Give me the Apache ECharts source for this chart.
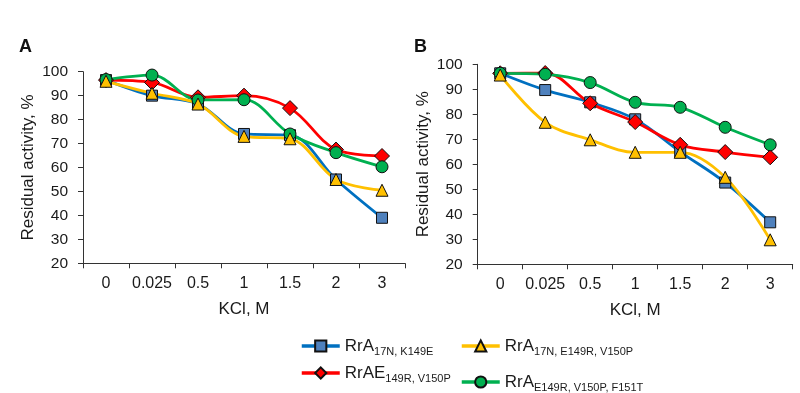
<!DOCTYPE html>
<html><head><meta charset="utf-8">
<script src="https://cdn.jsdelivr.net/npm/echarts@6/dist/echarts.min.js"></script>
<style>html,body{margin:0;padding:0;background:#fff}#c{width:800px;height:393px}</style>
</head><body><div id="c"></div>
<script>
const categories = ['0', '0.025', '0.5', '1', '1.5', '2', '3'];
const yTicks = [20, 30, 40, 50, 60, 70, 80, 90, 100];

// Panel A
const A_blue   = [96.5, 90, 86.5, 74, 73.5, 55, 39];
const A_yellow = [96, 91, 86.5, 73, 72, 55, 50.5];
const A_red    = [96.5, 95.5, 89.3, 90, 84.8, 67.5, 64.8];
const A_green  = [96.7, 98.6, 88.2, 88.3, 74, 66.2, 60.3];
// Panel B
const B_blue   = [96.4, 89.7, 84.8, 78, 65, 52.7, 36.8];
const B_yellow = [95.7, 76.8, 69.8, 64.8, 64.8, 54.8, 29.8];
const B_red    = [96.4, 96.5, 84.4, 76.9, 67.8, 64.9, 62.8];
const B_green  = [96.4, 96, 92.7, 84.8, 82.8, 74.8, 67.8];

const names = {
  blue: 'RrA17N, K149E',
  yellow: 'RrA17N, E149R, V150P',
  red: 'RrAE149R, V150P',
  green: 'RrAE149R, V150P, F151T'
};
const legendRich = {
  blue: '{m|RrA}{s|17N, K149E}',
  yellow: '{m|RrA}{s|17N, E149R, V150P}',
  red: '{m|RrAE}{s|149R, V150P}',
  green: '{m|RrA}{s|E149R, V150P, F151T}'
};

const FONT = 'Liberation Sans, Arial, sans-serif';
const styles = {
  blue:   {line: '#0070C0', fill: '#4F81BD', symbol: 'rect', size: 11},
  yellow: {line: '#FFC000', fill: '#FFC000', symbol: 'triangle', size: 12},
  red:    {line: '#FF0000', fill: '#FF0000', symbol: 'diamond', size: 15},
  green:  {line: '#00B050', fill: '#00B050', symbol: 'circle', size: 12}
};

function mkSeries(key, data, idx) {
  const s = styles[key];
  return {
    name: names[key], type: 'line', data: data,
    xAxisIndex: idx, yAxisIndex: idx,
    smooth: 0.35,
    symbol: s.symbol, symbolSize: s.size,
    lineStyle: {color: s.line, width: 2.8},
    itemStyle: {color: s.fill, borderColor: '#111', borderWidth: 1},
    color: s.line,
    z: 2
  };
}

function xAxis(idx) {
  return {
    type: 'category', gridIndex: idx, data: categories, boundaryGap: true,
    axisLine: {lineStyle: {color: '#333', width: 1}},
    axisTick: {show: true, inside: false, length: 5, lineStyle: {color: '#333'}},
    axisLabel: {color: '#1a1a1a', fontSize: 16, fontFamily: FONT, margin: 12, interval: 0},
    name: 'KCl, M', nameLocation: 'middle', nameGap: 38,
    nameTextStyle: {color: '#1a1a1a', fontSize: 17, fontFamily: FONT}
  };
}
function yAxis(idx) {
  return {
    type: 'value', gridIndex: idx, min: 20, max: 100, interval: 10,
    axisLine: {show: true, lineStyle: {color: '#333', width: 1}},
    axisTick: {show: true, inside: false, length: 5, lineStyle: {color: '#333'}},
    splitLine: {show: false},
    axisLabel: {color: '#1a1a1a', fontSize: 15.5, fontFamily: FONT, margin: 15},
    name: 'Residual activity, %', nameLocation: 'middle', nameGap: 46,
    nameTextStyle: {color: '#1a1a1a', fontSize: 17, fontFamily: FONT}
  };
}

function legendFor(key, left, top) {
  return {
    data: [names[key]], left: left, top: top, orient: 'horizontal',
    padding: 0,
    itemWidth: 38, itemHeight: 14, itemGap: 5,
    lineStyle: {width: 3.5},
    formatter: function () { return legendRich[key]; },
    textStyle: {
      fontFamily: FONT, color: '#1a1a1a',
      rich: {
        m: {fontSize: 17, fontFamily: FONT, color: '#1a1a1a', verticalAlign: 'bottom', lineHeight: 18},
        s: {fontSize: 11, fontFamily: FONT, color: '#1a1a1a', verticalAlign: 'bottom', lineHeight: 12, padding: [0, 0, -2, 0]}
      }
    }
  };
}

const chart = echarts.init(document.getElementById('c'), null, {renderer: 'canvas'});
chart.setOption({
  animation: false,
  backgroundColor: '#fff',
  title: [
    {text: 'A', left: 14, top: 33, textStyle: {fontSize: 18, fontWeight: 'bold', fontFamily: FONT, color: '#111'}},
    {text: 'B', left: 409, top: 33, textStyle: {fontSize: 18, fontWeight: 'bold', fontFamily: FONT, color: '#111'}}
  ],
  grid: [
    {left: 83, top: 71.7, width: 322, height: 191.6, containLabel: false},
    {left: 477.7, top: 64.3, width: 315, height: 200, containLabel: false}
  ],
  xAxis: [xAxis(0), xAxis(1)],
  yAxis: [yAxis(0), yAxis(1)],
  legend: [
    legendFor('blue', 300, 338),
    legendFor('red', 300, 365),
    legendFor('yellow', 460, 338),
    legendFor('green', 460, 374)
  ],
  series: [
    mkSeries('blue', A_blue, 0),
    mkSeries('red', A_red, 0),
    mkSeries('green', A_green, 0),
    mkSeries('yellow', A_yellow, 0),
    mkSeries('blue', B_blue, 1),
    mkSeries('red', B_red, 1),
    mkSeries('green', B_green, 1),
    mkSeries('yellow', B_yellow, 1)
  ]
});
</script></body></html>
